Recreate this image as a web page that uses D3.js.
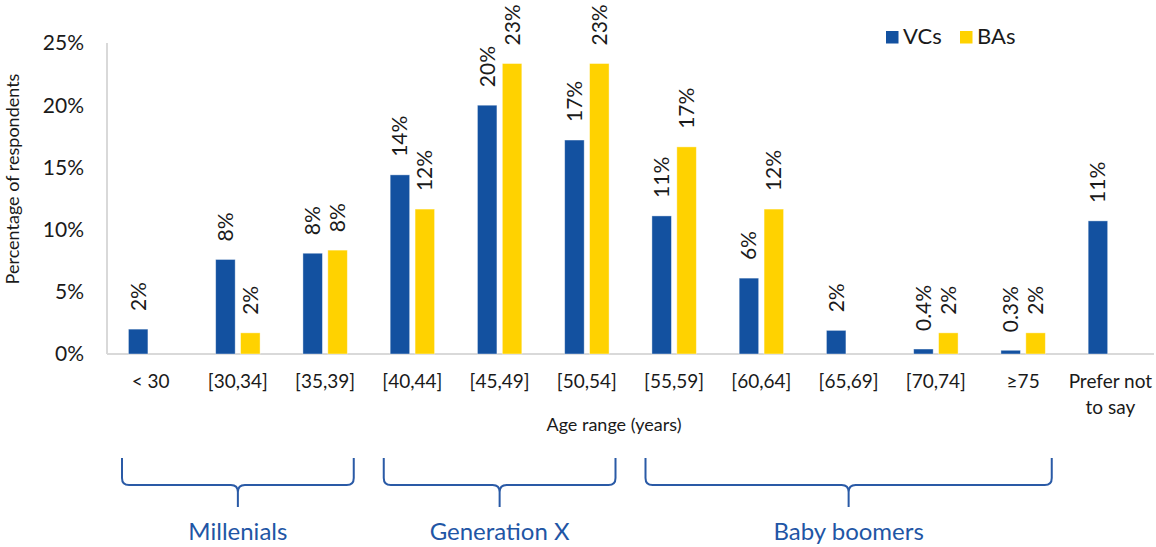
<!DOCTYPE html>
<html>
<head>
<meta charset="utf-8">
<script src="https://cdn.jsdelivr.net/npm/d3@7"></script>
<style>
  html, body { margin: 0; padding: 0; background: #fff; }
  svg { display: block; }
  text { font-family: Lato, "Noto Sans", sans-serif; fill: #1a1a1a; }
</style>
</head>
<body>
<svg id="chart" width="1156" height="547"></svg>
<script>
// ---- data ----
const categories = ["< 30", "[30,34]", "[35,39]", "[40,44]", "[45,49]", "[50,54]",
                    "[55,59]", "[60,64]", "[65,69]", "[70,74]", "\u226575", "Prefer not|to say"];
const seriesNames = ["VCs", "BAs"];
const vcValues = [2.0, 7.6, 8.1, 14.4, 20.0, 17.2, 11.1, 6.1, 1.9, 0.4, 0.3, 10.7];
const baValues = [null, 1.7, 8.35, 11.65, 23.35, 23.35, 16.65, 11.65, null, 1.7, 1.7, null];
const yTicks = [0, 5, 10, 15, 20, 25];
const generations = [
  { name: "Millenials", from: 0, to: 2 },
  { name: "Generation X", from: 3, to: 5 },
  { name: "Baby boomers", from: 6, to: 10 }
];
const colors = { VCs: "#1351a0", BAs: "#ffd200" };

// ---- layout ----
const svg = d3.select("#chart");
const pLeft = 107, pRight = 1154, pTop = 43, pBottom = 354;

const x0 = d3.scaleBand().domain(categories).range([pLeft, pRight]).padding(0);
const x1 = d3.scaleBand().domain(seriesNames).range([0, x0.bandwidth()])
  .paddingInner(0.217).paddingOuter(0.86);
const y = d3.scaleLinear().domain([0, 25]).range([pBottom, pTop]);

const fmt = v => (v < 1 ? v.toFixed(1) : Math.round(v)) + "%";

// axes lines
svg.append("line").attr("x1", pLeft).attr("x2", pLeft).attr("y1", pTop).attr("y2", pBottom)
  .attr("stroke", "#d9d9d9").attr("stroke-width", 2);
svg.append("line").attr("x1", pLeft).attr("x2", pRight).attr("y1", pBottom).attr("y2", pBottom)
  .attr("stroke", "#d9d9d9").attr("stroke-width", 2);

// y tick labels
svg.append("g").selectAll("text").data(yTicks).join("text")
  .attr("x", 84).attr("y", d => y(d)).attr("dy", "0.35em")
  .attr("text-anchor", "end").style("font-size", "21px")
  .text(d => d + "%");

// y title
svg.append("text")
  .attr("transform", "translate(19,179) rotate(-90)")
  .attr("text-anchor", "middle").style("font-size", "18px")
  .text("Percentage of respondents");

// bars
const rows = categories.map((c, i) => ({ cat: c, VCs: vcValues[i], BAs: baValues[i] }));
const groups = svg.append("g").selectAll("g").data(rows).join("g")
  .attr("transform", d => `translate(${x0(d.cat)},0)`);

groups.selectAll("rect")
  .data(d => seriesNames.filter(s => d[s] != null).map(s => ({ s, v: d[s] })))
  .join("rect")
  .attr("x", d => x1(d.s)).attr("width", x1.bandwidth())
  .attr("y", d => y(d.v)).attr("height", d => pBottom - y(d.v))
  .attr("fill", d => colors[d.s])
  .attr("stroke", "rgba(255,255,255,0.5)").attr("stroke-width", 0.8);

groups.selectAll("text.val")
  .data(d => seriesNames.filter(s => d[s] != null).map(s => ({ s, v: d[s] })))
  .join("text").attr("class", "val")
  .attr("transform", d => `translate(${x1(d.s) + x1.bandwidth() / 2},${y(d.v) - 18}) rotate(-90)`)
  .attr("dy", "0.36em").style("font-size", "21px")
  .text(d => fmt(d.v));

// x tick labels
const xl = svg.append("g").selectAll("text").data(categories).join("text")
  .attr("x", d => x0(d) + x0.bandwidth() / 2).attr("y", 388)
  .attr("text-anchor", "middle").style("font-size", "19px");
xl.each(function (d) {
  const parts = d.split("|");
  d3.select(this).selectAll("tspan").data(parts).join("tspan")
    .attr("x", x0(d) + x0.bandwidth() / 2)
    .attr("dy", (p, i) => i === 0 ? 0 : 26)
    .text(p => p);
});

// x title
svg.append("text").attr("x", 614).attr("y", 431).attr("text-anchor", "middle")
  .style("font-size", "18px").text("Age range (years)");

// legend
const lg = svg.append("g");
const legendX = [886, 960];
seriesNames.forEach((s, i) => {
  lg.append("rect").attr("x", legendX[i]).attr("y", 31).attr("width", 12.5).attr("height", 12.5)
    .attr("fill", colors[s]);
  lg.append("text").attr("x", legendX[i] + 17).attr("y", 44).style("font-size", "22px").text(s);
});

// generation brackets
const bStroke = "#2a5aa6";
const yt = 458, yl = 485, yb = 507, r = 7;
generations.forEach(g => {
  const xa = x0(categories[g.from]) + 15;
  const xb = x0(categories[g.to]) + x0.bandwidth() - 15;
  const cx = (x0(categories[g.from]) + x0(categories[g.to]) + x0.bandwidth()) / 2;
  const p = d3.path();
  p.moveTo(xa, yt);
  p.lineTo(xa, yl - r);
  p.quadraticCurveTo(xa, yl, xa + r, yl);
  p.lineTo(cx - r, yl);
  p.quadraticCurveTo(cx, yl, cx, yl + r);
  p.lineTo(cx, yb);
  p.moveTo(cx, yl + r);
  p.quadraticCurveTo(cx, yl, cx + r, yl);
  p.lineTo(xb - r, yl);
  p.quadraticCurveTo(xb, yl, xb, yl - r);
  p.lineTo(xb, yt);
  svg.append("path").attr("d", p.toString()).attr("fill", "none")
    .attr("stroke", bStroke).attr("stroke-width", 2);
  svg.append("text").attr("x", cx).attr("y", 540).attr("text-anchor", "middle")
    .style("font-size", "24px").style("fill", "#1f56a5").text(g.name);
});
</script>
</body>
</html>
